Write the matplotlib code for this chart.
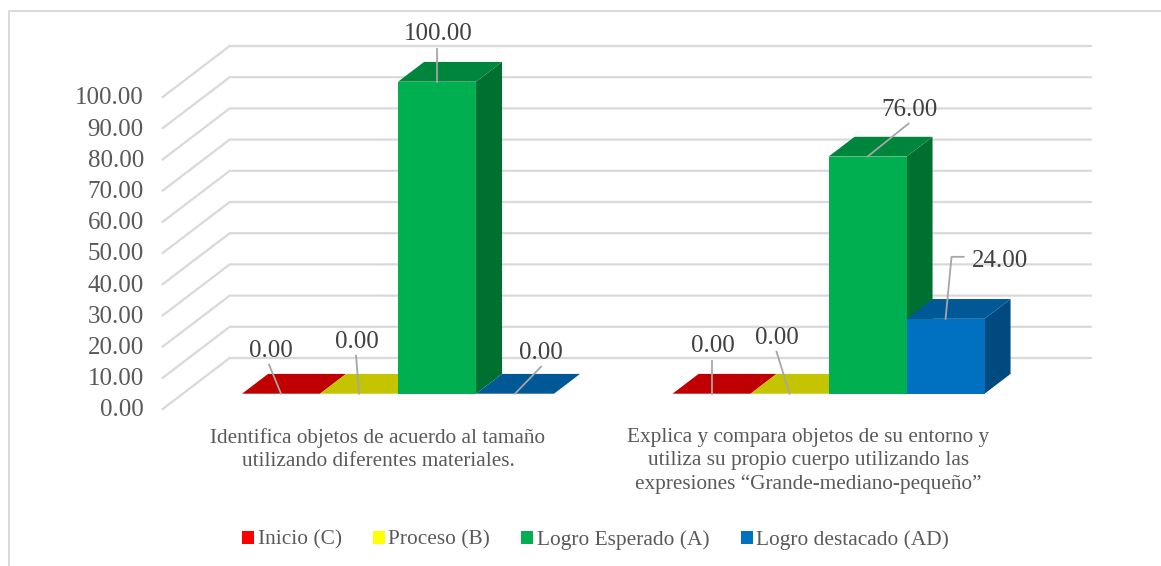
import matplotlib
matplotlib.use("Agg")
import matplotlib.pyplot as plt
from matplotlib.lines import Line2D
from matplotlib.patches import Patch, Polygon
from matplotlib.transforms import Affine2D

plt.rcParams['font.family'] = ['Liberation Serif', 'DejaVu Sans']

# datos
categorias = [
    "Identifica objetos de acuerdo al tamaño\nutilizando diferentes materiales.",
    "Explica y compara objetos de su entorno y\nutiliza su propio cuerpo utilizando las\nexpresiones “Grande-mediano-pequeño”",
]
series = ["Inicio (C)", "Proceso (B)", "Logro Esperado (A)", "Logro destacado (AD)"]
inicio = [0.00, 0.00]
proceso = [0.00, 0.00]
logro_esperado = [100.00, 76.00]
logro_destacado = [0.00, 24.00]
valores = [inicio, proceso, logro_esperado, logro_destacado]
ticks_y = [0, 10, 20, 30, 40, 50, 60, 70, 80, 90, 100]

# colores: frente, tapa, lateral
frente = ["#ff0000", "#ffff00", "#00b050", "#0070c0"]
tapa = ["#c00000", "#c4c400", "#00863c", "#005896"]
lateral = ["#a00000", "#a0a000", "#007030", "#004a80"]

# desplazamiento de las etiquetas en pixeles respecto al centro de la barra:
# (serie, grupo): (texto, puntos de la linea guia)
etiquetas = {
    (0, 0): ((-10, 43), [(-12, 29), (0, 0)]),
    (1, 0): ((-2, 52), [(-3, 38), (0, 0)]),
    (2, 0): ((1, 48), [(0, 33), (0, 0)]),
    (3, 0): ((26, 41), [(26, 27), (0, 0)]),
    (0, 1): ((1, 48), [(0, 33), (0, 0)]),
    (1, 1): ((-13, 56), [(-13, 42), (0, 0)]),
    (2, 1): ((42, 47), [(41, 33), (0, 0)]),
    (3, 1): ((54, 58), [(18, 62), (6, 62), (0, 0)]),
}

ANCHO = 78 / 430.5   # ancho de barra en unidades de categoria
DX = 67 / 430.5      # fuga del fondo
DY = 51 / 3.12
PROF_A = 0.30
PROF_B = 0.688


def proyectar(x, y, prof):
    return x + DX * prof, y + DY * prof


def caja(ax, x0, valor, i):
    a = proyectar(x0, valor, PROF_A)
    b = proyectar(x0 + ANCHO, valor, PROF_A)
    c = proyectar(x0 + ANCHO, valor, PROF_B)
    d = proyectar(x0, valor, PROF_B)
    base_a = proyectar(x0, 0, PROF_A)
    base_b = proyectar(x0 + ANCHO, 0, PROF_A)
    base_c = proyectar(x0 + ANCHO, 0, PROF_B)
    if valor > 0:
        ax.add_patch(Polygon([base_b, base_c, c, b], fc=lateral[i], ec='none', zorder=3, clip_on=False))
        ax.add_patch(Polygon([base_a, base_b, b, a], fc=frente[i], ec='none', zorder=3, clip_on=False))
    ax.add_patch(Polygon([a, b, c, d], fc=tapa[i], ec='none', zorder=3, clip_on=False))


fig = plt.figure(figsize=(11.61, 5.66), dpi=100, facecolor='white')
ax = fig.add_axes([162.7 / 1161, (566 - 409) / 566, 861 / 1161, 312 / 566])
ax.set_xlim(-0.5, 1.5)
ax.set_ylim(0, 100)
ax.patch.set_visible(False)
for lado in ax.spines.values():
    lado.set_visible(False)

# marco del grafico
fig.add_artist(Line2D([9 / 1161, 9 / 1161, 1], [0, 1 - 10.5 / 566, 1 - 10.5 / 566],
                      color='#d9d9d9', lw=1.4))

# rejilla: pared lateral y fondo
for v in ticks_y:
    p0 = proyectar(-0.5, v, 0)
    p1 = proyectar(-0.5, v, 1)
    p2 = proyectar(1.5, v, 1)
    ax.plot([p0[0], p1[0], p2[0]], [p0[1], p1[1], p2[1]], color='#d9d9d9', lw=1.6,
            clip_on=False, zorder=1, solid_joinstyle='miter')

ax.set_yticks(ticks_y)
ax.set_yticklabels([f"{v:.2f}" for v in ticks_y], fontsize=18, color='#595959')
ax.tick_params(axis='y', length=0, pad=13.6)
for t in ax.get_yticklabels():
    t.set_transform(t.get_transform() + Affine2D().translate(0, 1))

ax.set_xticks([0, 1])
ax.set_xticklabels(categorias, fontsize=15.3, color='#595959', linespacing=1.31)
ax.tick_params(axis='x', length=0, pad=13.5)

# barras
for g in range(len(categorias)):
    for i in range(len(series)):
        caja(ax, g + (i - 2) * ANCHO, valores[i][g], i)

# etiquetas de datos con linea guia
for (i, g), (pos_txt, guia) in etiquetas.items():
    v = valores[i][g]
    cx, cy = proyectar(g + (i - 1.5) * ANCHO, v, PROF_A)
    xs = [cx] * len(guia)
    ys = [cy] * len(guia)
    desplaz = Affine2D()
    for k, (dx, dy) in enumerate(guia):
        px, py = ax.transData.transform((cx, cy))
        xs[k], ys[k] = px + dx, py + dy
    ax.add_line(Line2D(xs, ys, color='#a6a6a6', lw=1.3, transform=desplaz, zorder=4, clip_on=False))
    ax.text(cx, cy, f"{v:.2f}", fontsize=18, color='#404040', ha='center', va='center',
            transform=ax.transData + Affine2D().translate(*pos_txt), zorder=5, clip_on=False)

handles = [Patch(facecolor=c, edgecolor='none') for c in frente]
fig.legend(handles, series, ncol=4, loc='center', bbox_to_anchor=(595.5 / 1161, 1 - 540 / 566),
           frameon=False, fontsize=15.4, labelcolor='#595959', handlelength=0.56, handleheight=0.56,
           handletextpad=0.16, columnspacing=1.46)

fig.savefig("out.png", dpi=100, facecolor='white')
